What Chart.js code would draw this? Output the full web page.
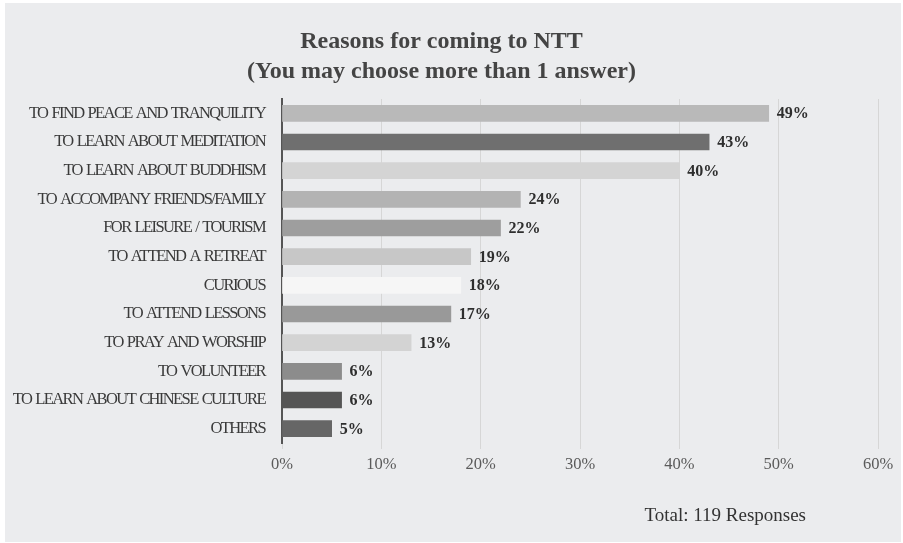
<!DOCTYPE html>
<html>
<head>
<meta charset="utf-8">
<title>Reasons for coming to NTT</title>
<script src="https://cdn.jsdelivr.net/npm/chart.js@4.4.1/dist/chart.umd.min.js"></script>
<style>
  html, body { margin: 0; padding: 0; background: #fff; }
  #panel {
    position: absolute;
    left: 5px;
    top: 3px;
    width: 896px;
    height: 539px;
    background: #ebecee;
  }
</style>
</head>
<body>
<div id="panel"><canvas id="reasonsChart"></canvas></div>
<script>
const titleLines = ['Reasons for coming to NTT', '(You may choose more than 1 answer)'];

const reasons = [
    'TO FIND PEACE AND TRANQUILITY',
    'TO LEARN ABOUT MEDITATION',
    'TO LEARN ABOUT BUDDHISM',
    'TO ACCOMPANY FRIENDS/FAMILY',
    'FOR LEISURE / TOURISM',
    'TO ATTEND A RETREAT',
    'CURIOUS',
    'TO ATTEND LESSONS',
    'TO PRAY AND WORSHIP',
    'TO VOLUNTEER',
    'TO LEARN ABOUT CHINESE CULTURE',
    'OTHERS'
];

const percents = [49, 43, 40, 24, 22, 19, 18, 17, 13, 6, 6, 5];

const barColors = [
    '#b9b9b9', '#6f6f6f', '#d4d4d4', '#b3b3b3', '#9e9e9e', '#c7c7c7',
    '#f6f6f6', '#999999', '#d3d3d3', '#8c8c8c', '#555555', '#666666'
];

const xMax = 60;
const xStep = 10;
const totalResponses = 119;

const serif = "'Liberation Serif', 'Times New Roman', serif";
Chart.defaults.font.family = serif;

// percentage next to each bar + footer with the response count
const barTextPlugin = {
    id: 'barText',
    beforeDraw(chart) {
        chart.ctx.letterSpacing = '0px';
        chart.ctx.wordSpacing = '0px';
    },
    afterDatasetsDraw(chart) {
        const ctx = chart.ctx;
        const meta = chart.getDatasetMeta(0);
        ctx.save();
        ctx.font = 'bold 16px ' + serif;
        ctx.fillStyle = '#2e2e2e';
        ctx.textAlign = 'left';
        ctx.textBaseline = 'middle';
        meta.data.forEach(function (bar, i) {
            ctx.fillText(percents[i] + '%', bar.x + 8, bar.y + 1);
        });
        ctx.restore();
        // category names are set tight, they are drawn next (ticks.z = 1)
        ctx.letterSpacing = '-1.6px';
        ctx.wordSpacing = '1.5px';
    },
    afterDraw(chart) {
        const ctx = chart.ctx;
        ctx.letterSpacing = '0px';
        ctx.wordSpacing = '0px';
        ctx.save();
        ctx.font = '19px ' + serif;
        ctx.fillStyle = '#333333';
        ctx.textAlign = 'right';
        ctx.textBaseline = 'alphabetic';
        ctx.fillText('Total: ' + totalResponses + ' Responses', chart.chartArea.right - 72, 518);
        ctx.restore();
    }
};

const ctx = document.getElementById('reasonsChart').getContext('2d');

window.reasonsChart = new Chart(ctx, {
    type: 'bar',
    data: {
        labels: reasons,
        datasets: [{
            data: percents,
            backgroundColor: barColors,
            barThickness: 16
        }]
    },
    options: {
        indexAxis: 'y',
        responsive: true,
        maintainAspectRatio: false,
        animation: false,
        layout: {
            padding: { left: 0, right: 23, top: 0, bottom: 0 }
        },
        scales: {
            x: {
                min: 0,
                max: xMax,
                afterFit: function (scale) { scale.height = 99; },
                ticks: {
                    stepSize: xStep,
                    padding: 6,
                    color: '#5a5a5a',
                    font: { size: 16.5 },
                    callback: function (v) { return v + '%'; }
                },
                grid: {
                    color: '#d6d6d6',
                    lineWidth: 1,
                    tickLength: 6
                },
                border: { display: false }
            },
            y: {
                afterFit: function (scale) { scale.width = 277; },
                ticks: {
                    z: 1,
                    padding: 9,
                    color: '#3a3a3a',
                    font: { size: 16.5 }
                },
                grid: { display: false },
                border: { display: true, color: '#555555', width: 2 }
            }
        },
        plugins: {
            legend: { display: false },
            tooltip: { enabled: false },
            title: {
                display: true,
                text: titleLines,
                color: '#444444',
                font: { size: 24, weight: 'bold', lineHeight: 1.25 },
                padding: { top: 24, bottom: 12 }
            }
        }
    },
    plugins: [barTextPlugin]
});
</script>
</body>
</html>
